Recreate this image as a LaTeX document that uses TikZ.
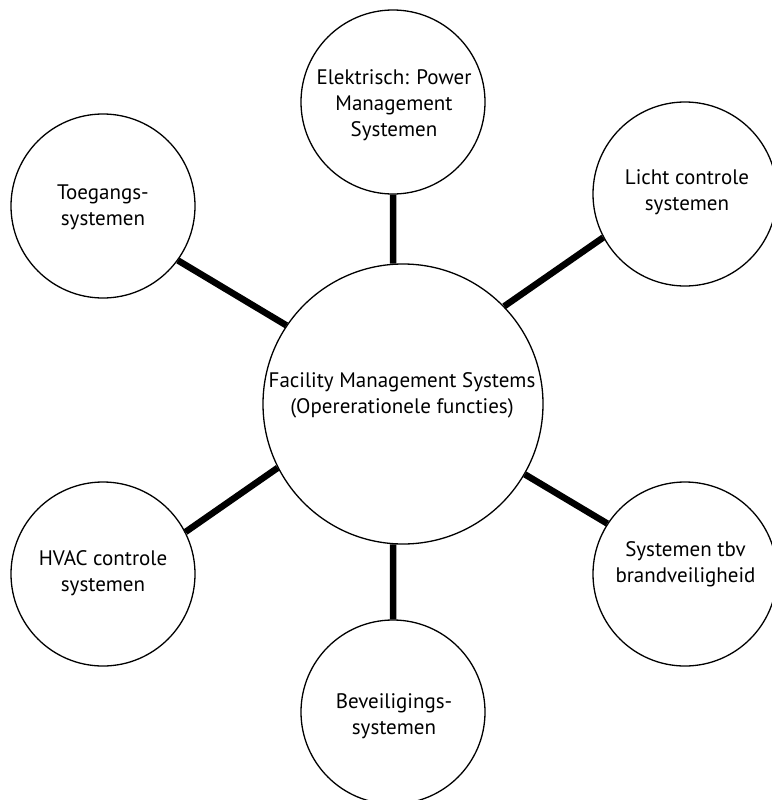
\documentclass[tikz,border=0pt]{standalone}
\usepackage{fontspec}
\setmainfont{PT Sans}
\begin{document}
\begin{tikzpicture}[x=1pt,y=-1pt,
  ring/.style={circle,draw=black,line width=1.3pt,fill=white,inner sep=0pt},
  hubring/.style={ring,minimum size=280pt},
  satring/.style={ring,minimum size=184pt},
  caption/.style={align=center,inner sep=0pt,font=\fontsize{21}{26}\selectfont},
  spoke/.style={line width=6.5pt}]
\useasboundingbox (0,0) rectangle (771,800);
\fill[white] (0,0) rectangle (771,800);

% central hub
\node[hubring] (hub) at (403,404) {};
\node[caption] (hubtext) at (402,395.5) {Facility Management Systems\\(Opererationele functies)};

% surrounding systems
\node[satring] (power) at (393,102) {};
\node[caption] (powertext) at (394,105) {Elektrisch: Power\\Management\\Systemen};

\node[satring] (access) at (103,206) {};
\node[caption] (accesstext) at (103,207) {Toegangs-\\systemen};

\node[satring] (light) at (685,194) {};
\node[caption] (lighttext) at (687,192) {Licht controle\\systemen};

\node[satring] (hvac) at (103,574) {};
\node[caption] (hvactext) at (103,573) {HVAC controle\\systemen};

\node[satring] (fire) at (685,574) {};
\node[caption] (firetext) at (685.5,564) {Systemen tbv\\brandveiligheid};

\node[satring] (security) at (393,712) {};
\node[caption] (securitytext) at (394,716) {Beveiligings-\\systemen};

% spokes
\draw[spoke] (power.270) -- (hub.94);
\draw[spoke] (access.324) -- (hub.146);
\draw[spoke] (light.208) -- (hub.44);
\draw[spoke] (hvac.27) -- (hub.207);
\draw[spoke] (fire.147) -- (hub.330);
\draw[spoke] (security.90) -- (hub.266);
\end{tikzpicture}
\end{document}
